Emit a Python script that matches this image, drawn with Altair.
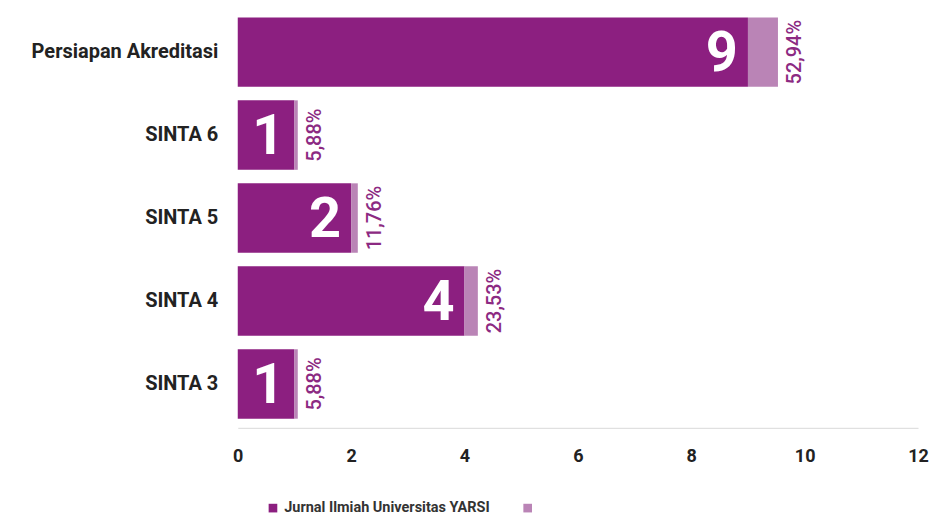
import altair as alt
import pandas as pd

categories = ["Persiapan Akreditasi", "SINTA 6", "SINTA 5", "SINTA 4", "SINTA 3"]
counts = [9, 1, 2, 4, 1]
percentages = [52.94, 5.88, 11.76, 23.53, 5.88]
series_names = ["Jurnal Ilmiah Universitas YARSI", "Persentase"]
x_ticks = [0, 2, 4, 6, 8, 10, 12]

DARK = "#8C1F80"
LIGHT = "#BA84B6"
FONT = "Roboto"

rows = []
for c, n, p in zip(categories, counts, percentages):
    rows.append({"kategori": c, "seri": series_names[0], "nilai": n, "urut": 0})
    rows.append({"kategori": c, "seri": series_names[1], "nilai": p / 100.0, "urut": 1})
bars_df = pd.DataFrame(rows)

labels_df = pd.DataFrame({
    "kategori": categories,
    "jumlah": counts,
    "total": [n + p / 100.0 for n, p in zip(counts, percentages)],
    "persen_teks": [f"{p:.2f}%".replace(".", ",") for p in percentages],
})

y_enc = alt.Y(
    "kategori:N", sort=categories, title=None,
    scale=alt.Scale(paddingInner=0.163, paddingOuter=0.11),
    axis=alt.Axis(labelFont=FONT, labelFontSize=20, labelFontWeight="bold",
                  labelColor="#222222", labelPadding=20, ticks=False, domain=False,
                  labelLimit=0, minExtent=230, maxExtent=230),
)

bars = alt.Chart(bars_df).mark_bar().encode(
    x=alt.X("nilai:Q", stack="zero", title=None,
            scale=alt.Scale(domain=[0, 12], nice=False),
            axis=alt.Axis(values=x_ticks, format="d", grid=False, ticks=False, domainColor="#d9d9d9",
                          labelFont=FONT, labelFontSize=18, labelFontWeight="bold",
                          labelColor="#222222", labelPadding=20, labelFlush=False)),
    y=y_enc,
    color=alt.Color("seri:N", scale=alt.Scale(domain=series_names, range=[DARK, LIGHT]),
                    legend=alt.Legend(orient="none", legendX=28, legendY=493, direction="horizontal",
                                      title=None, symbolType="square", symbolSize=75,
                                      labelFont=FONT, labelFontSize=14.5, labelFontWeight="bold",
                                      labelColor="#333333", columnPadding=30, labelLimit=0,
                                      labelOffset=4,
                                      labelExpr="datum.label == 'Persentase' ? '' : datum.label")),
    order=alt.Order("urut:Q"),
)

count_text = alt.Chart(labels_df).mark_text(
    align="right", baseline="middle", dx=-10, dy=2, fontSize=56, fontWeight="bold",
    color="white", font=FONT,
).encode(
    x=alt.X("jumlah:Q"),
    y=alt.Y("kategori:N", sort=categories),
    text="jumlah:Q",
)

pct_text = alt.Chart(labels_df).mark_text(
    angle=270, align="center", baseline="middle", dy=17, fontSize=20, fontWeight=500,
    color="#8C2A82", font=FONT,
).encode(
    x=alt.X("total:Q"),
    y=alt.Y("kategori:N", sort=categories),
    text="persen_teks:N",
)

chart = alt.layer(bars, count_text, pct_text).properties(
    width=681, height=420, padding={"left": 0, "top": 0, "right": 0, "bottom": 0}
).configure_view(stroke=None)

chart.save("out.html", embed_options={"renderer": "svg", "actions": False})
